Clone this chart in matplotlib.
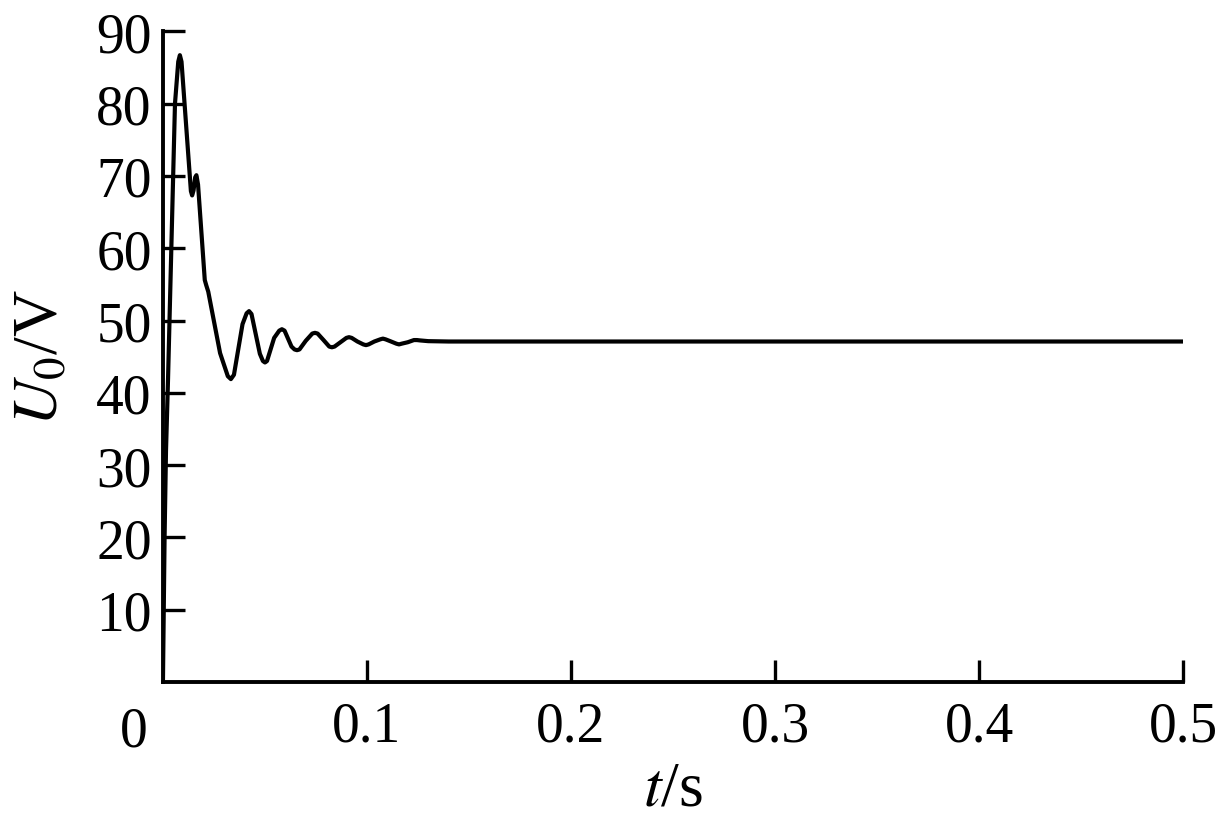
import numpy as np
import matplotlib
matplotlib.use("Agg")
import matplotlib.pyplot as plt

plt.rcParams['font.family'] = ['Liberation Serif', 'DejaVu Serif']
plt.rcParams['mathtext.fontset'] = 'stix'

# output voltage (time in s, voltage in V)
t = [0.0, 0.0008, 0.0015, 0.0025, 0.0059, 0.0075, 0.0083, 0.0091, 0.0137, 0.0143,
     0.0150, 0.0158, 0.0164, 0.0172, 0.0205, 0.0212, 0.0222, 0.0280,
     0.0318, 0.0333, 0.0348, 0.0390, 0.0410, 0.0422, 0.0434,
     0.0475, 0.0490, 0.0500, 0.0510, 0.0545, 0.0570, 0.0583, 0.0596,
     0.0630, 0.0645, 0.0657, 0.0669, 0.0700, 0.0732, 0.0745, 0.0758,
     0.0787, 0.0815, 0.0828, 0.0841, 0.0870, 0.0899, 0.0912, 0.0925,
     0.0953, 0.0982, 0.0995, 0.1008, 0.1036, 0.1065, 0.1078, 0.1091,
     0.1118, 0.1144, 0.1157, 0.1170, 0.1200, 0.1230, 0.1245, 0.1260,
     0.1300, 0.1400, 0.2, 0.3, 0.4, 0.5]
u0 = [0.0, 20.0, 32.0, 42.0, 80.0, 85.8, 86.7, 85.8, 67.9, 67.3,
      68.0, 69.8, 70.1, 68.8, 55.6, 54.9, 54.0, 45.5,
      42.3, 41.9, 42.5, 49.5, 51.0, 51.3, 50.9,
      45.4, 44.4, 44.2, 44.4, 47.6, 48.6, 48.8, 48.6,
      46.4, 46.0, 45.9, 46.0, 47.2, 48.2, 48.3, 48.2,
      47.3, 46.4, 46.3, 46.4, 47.0, 47.6, 47.7, 47.6,
      47.1, 46.7, 46.6, 46.7, 47.1, 47.4, 47.5, 47.4,
      47.1, 46.8, 46.7, 46.8, 47.0, 47.3, 47.3, 47.25,
      47.15, 47.1, 47.1, 47.1, 47.1, 47.1]

xticks = [0.1, 0.2, 0.3, 0.4, 0.5]
yticks = [10, 20, 30, 40, 50, 60, 70, 80, 90]

fig = plt.figure(figsize=(12.16, 8.28), dpi=100)
ax = fig.add_axes([0.134, 0.175, 0.839, 0.786])

ax.plot(t, u0, color='black', lw=3.0, solid_joinstyle='round')

ax.set_xlim(0, 0.5)
ax.set_ylim(0, 90)
ax.set_xticks(xticks)
ax.set_xticklabels(['0.1', '0.2', '0.3', '0.4', '0.5'])
ax.set_yticks(yticks)
ax.set_yticklabels([str(v) for v in yticks])
ax.text(-0.0145, -3.3, '0', fontsize=40, ha='center', va='top')

ax.spines['top'].set_visible(False)
ax.spines['right'].set_visible(False)
for s in ['left', 'bottom']:
    ax.spines[s].set_linewidth(2.8)
ax.tick_params(direction='in', length=16, width=2.4, labelsize=40, pad=8)
ax.tick_params(axis='x', pad=13)

ax.set_xlabel(r'$t$/s', fontsize=46, labelpad=6)
ax.set_ylabel(r'$U_0$/V', fontsize=46, labelpad=18)

fig.savefig('out.png', dpi=100)
